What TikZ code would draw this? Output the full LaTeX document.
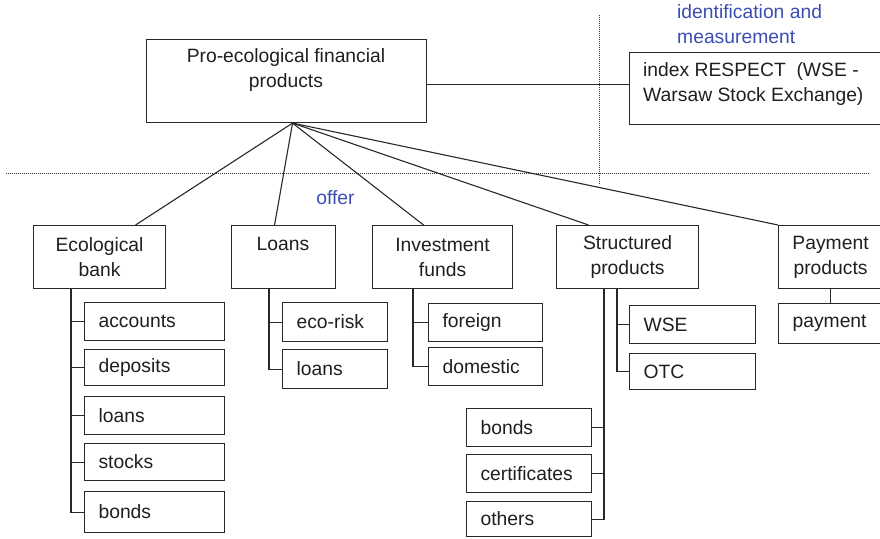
\documentclass[tikz,border=0pt]{standalone}
\usepackage{fontspec}
\setmainfont{Liberation Sans}
\usetikzlibrary{calc}
\definecolor{lnc}{RGB}{40,40,40}
\definecolor{blu}{RGB}{58,78,178}
\tikzset{
  every node/.style={font=\fontsize{19.3}{25}\selectfont, text=black!88},
  box/.style={draw=lnc, line width=1.1pt, anchor=north west, inner sep=0pt, align=center},
  leaf/.style={draw=lnc, line width=1.1pt, anchor=north west, inner xsep=14pt, inner ysep=0pt, align=left},
  conn/.style={draw=lnc, line width=1.1pt},
  dots/.style={draw=black!80, line width=0.9pt, dash pattern=on 0.9pt off 1.1pt},
  bluetext/.style={text=blu, align=left, inner sep=0pt}
}
\begin{document}
\begin{tikzpicture}[x=1pt,y=-1pt]
\useasboundingbox (0,0) rectangle (880,538);
\clip (0,0) rectangle (880,538);
% dotted separators
\draw[dots] (6,173) -- (870,173);
\draw[dots] (599,15) -- (599,185);
% main
\node[box, minimum width=280pt, minimum height=83pt] (main) at (146,39) {};
\node[align=center, inner sep=0pt] (maintxt) at (286,70.5) {Pro-ecological financial\\products};
% right box
\node[box, minimum width=262pt, minimum height=72pt] (resp) at (629,52) {};
\node[anchor=west, align=left, inner sep=0pt] (resptxt) at (643,84) {index RESPECT\ \ (WSE -\\Warsaw Stock Exchange)};
\node[bluetext, anchor=west] (ident) at (677,24.5) {identification and\\measurement};
\node[text=blu, inner sep=0pt] (offer) at (335.5,198) {offer};
\draw[conn] ([yshift=-3.5pt]main.east) -- ([yshift=-3.5pt]main.east -| resp.west);
% level 1
\node[box, minimum width=132pt, minimum height=63pt] (eco) at (33,225) {Ecological\\bank};
\node[box, minimum width=104pt, minimum height=63pt] (loans) at (231,225) {};
\node[inner sep=0pt] (loanstxt) at (283,243.5) {Loans};
\node[box, minimum width=140pt, minimum height=63pt] (inv) at (372,225) {Investment\\funds};
\node[box, minimum width=142pt, minimum height=63pt] (str) at (556,225) {Structured\\products};
\node[box, minimum width=104pt, minimum height=63pt] (pay) at (778,225) {Payment\\products};
\coordinate (apex) at ([xshift=6pt]main.south);
\draw[conn] (apex) -- ([xshift=36pt]eco.north);
\draw[conn] (apex) -- ([xshift=-9pt]loans.north);
\draw[conn] (apex) -- ([xshift=-19pt]inv.north);
\draw[conn] (apex) -- ([xshift=-39pt]str.north);
\draw[conn] (apex) -- (pay.north west);
% ecological bank children
\node[leaf, text width=112pt, minimum height=38pt] (acc) at (84,302) {accounts};
\node[leaf, text width=112pt, minimum height=36pt] (dep) at (84,349) {deposits};
\node[leaf, text width=112pt, minimum height=38pt] (eloans) at (84,396) {loans};
\node[leaf, text width=112pt, minimum height=37pt] (stocks) at (84,443) {stocks};
\node[leaf, text width=112pt, minimum height=41pt] (ebonds) at (84,491) {bonds};
\draw[conn] ([xshift=38pt]eco.south west) |- (ebonds.west);
\foreach \c in {acc,dep,eloans,stocks} \draw[conn] (\c.west) -- ++(-13,0);
% loans children
\node[leaf, text width=77pt, minimum height=39pt] (ecorisk) at (282,302) {eco-risk};
\node[leaf, text width=77pt, minimum height=39pt] (lloans) at (282,349) {loans};
\draw[conn] ([xshift=38pt]loans.south west) |- (lloans.west);
\draw[conn] (ecorisk.west) -- ++(-13,0);
% investment children
\node[leaf, text width=86pt, minimum height=38pt] (foreign) at (428,303) {foreign};
\node[leaf, text width=86pt, minimum height=38pt] (domestic) at (428,347) {domestic};
\draw[conn] ([xshift=41pt]inv.south west) |- (domestic.west);
\draw[conn] (foreign.west) -- ++(-15,0);
% structured children
\node[leaf, text width=98pt, minimum height=38pt] (wse) at (629,305) {WSE};
\node[leaf, text width=98pt, minimum height=36pt] (otc) at (629,353) {OTC};
\draw[conn] ([xshift=61pt]str.south west) |- (otc.west);
\draw[conn] (wse.west) -- ++(-12,0);
\node[leaf, text width=97pt, minimum height=38pt] (sbonds) at (466,408) {bonds};
\node[leaf, text width=97pt, minimum height=38pt] (cert) at (466,454) {certificates};
\node[leaf, text width=97pt, minimum height=35pt] (others) at (466,501) {others};
\draw[conn] ([xshift=48pt]str.south west) |- (others.east);
\draw[conn] (sbonds.east) -- ++(13,0);
\draw[conn] (cert.east) -- ++(13,0);
% payment children
\node[leaf, text width=76pt, minimum height=40pt] (payment) at (778,303) {payment};
\draw[conn] (pay.south) -- (payment.north);
\end{tikzpicture}
\end{document}
